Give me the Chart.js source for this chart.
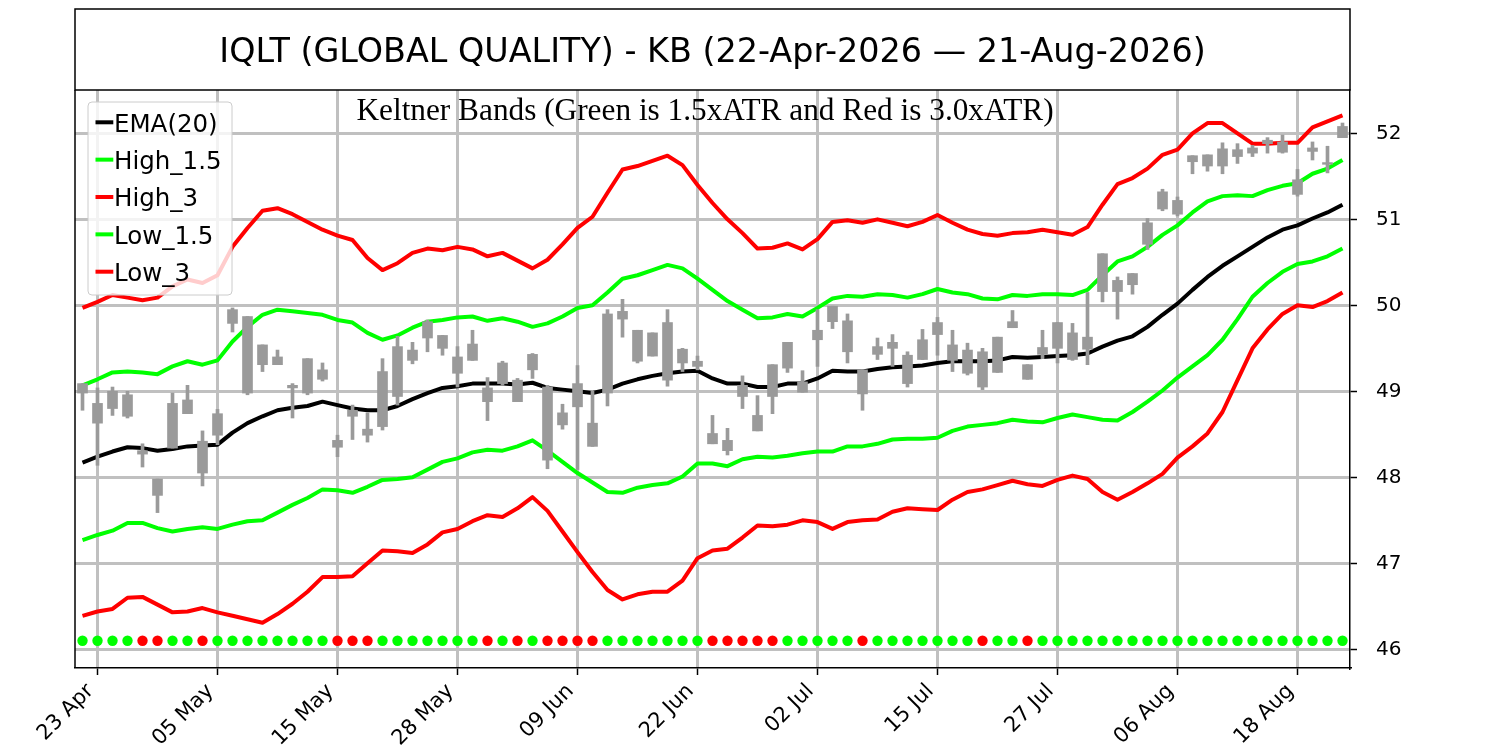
<!DOCTYPE html>
<html><head><meta charset="utf-8">
<script src="https://cdn.jsdelivr.net/npm/chart.js@4/dist/chart.umd.min.js"></script>
<style>html,body{margin:0;padding:0;background:#fff}canvas{display:block}</style>
</head><body>
<canvas id="c" width="1500" height="750"></canvas>
<script>
const titleText = 'IQLT (GLOBAL QUALITY) - KB (22-Apr-2026 \u2014 21-Aug-2026)';
const subtitleText = 'Keltner Bands (Green is 1.5xATR and Red is 3.0xATR)';
const tickIdx = [1, 9, 17, 25, 33, 41, 49, 57, 65, 73, 81];
const tickLabels = ['23 Apr', '05 May', '15 May', '28 May', '09 Jun', '22 Jun', '02 Jul', '15 Jul', '27 Jul', '06 Aug', '18 Aug'];
const yTicks = [46, 47, 48, 49, 50, 51, 52];

const ema = [48.17,48.24,48.30,48.35,48.34,48.31,48.33,48.36,48.37,48.38,48.52,48.63,48.71,48.78,48.81,
48.83,48.88,48.84,48.80,48.78,48.78,48.83,48.91,48.98,49.04,49.06,49.09,49.09,49.09,49.08,
49.10,49.04,49.02,49.00,48.98,49.02,49.09,49.14,49.18,49.21,49.23,49.24,49.15,49.09,49.09,
49.05,49.05,49.09,49.09,49.15,49.24,49.23,49.23,49.26,49.28,49.29,49.30,49.33,49.35,
49.35,49.35,49.36,49.40,49.39,49.40,49.41,49.42,49.44,49.52,49.59,49.64,49.75,49.89,50.02,
50.18,50.33,50.46,50.57,50.68,50.79,50.88,50.93,51.01,51.08,51.17];

const high15 = [49.07,49.14,49.22,49.23,49.22,49.20,49.29,49.35,49.31,49.36,49.58,49.75,49.89,49.95,49.93,
49.91,49.89,49.83,49.80,49.68,49.60,49.65,49.74,49.81,49.83,49.86,49.87,49.82,49.85,49.81,
49.75,49.79,49.87,49.97,50.00,50.15,50.31,50.35,50.41,50.47,50.43,50.31,50.18,50.05,49.95,
49.85,49.86,49.90,49.87,49.97,50.08,50.11,50.10,50.13,50.12,50.09,50.13,50.19,50.15,
50.13,50.08,50.07,50.12,50.11,50.13,50.13,50.12,50.18,50.35,50.51,50.57,50.68,50.82,50.93,
51.08,51.21,51.27,51.28,51.27,51.34,51.39,51.42,51.53,51.59,51.69];

const high3 = [49.97,50.04,50.12,50.09,50.06,50.09,50.22,50.30,50.26,50.35,50.68,50.90,51.10,51.13,51.06,
50.97,50.88,50.81,50.76,50.55,50.41,50.49,50.61,50.66,50.64,50.68,50.65,50.57,50.61,50.52,
50.43,50.53,50.71,50.90,51.03,51.31,51.58,51.62,51.68,51.74,51.63,51.40,51.19,51.00,50.84,
50.66,50.67,50.72,50.65,50.77,50.97,50.99,50.96,51.00,50.96,50.92,50.97,51.05,50.96,
50.88,50.83,50.81,50.84,50.85,50.88,50.85,50.82,50.91,51.17,51.41,51.48,51.59,51.75,51.81,
52.00,52.12,52.12,52.00,51.88,51.88,51.89,51.89,52.07,52.14,52.21];

const low15 = [47.27,47.33,47.38,47.47,47.47,47.41,47.37,47.40,47.42,47.40,47.45,47.49,47.50,47.59,47.68,
47.76,47.86,47.85,47.82,47.89,47.97,47.98,48.00,48.09,48.18,48.22,48.29,48.32,48.31,48.36,
48.43,48.31,48.18,48.05,47.94,47.83,47.82,47.88,47.91,47.93,48.01,48.16,48.16,48.13,48.21,
48.24,48.23,48.25,48.28,48.30,48.30,48.36,48.36,48.39,48.44,48.45,48.45,48.46,48.54,
48.59,48.61,48.63,48.67,48.65,48.64,48.69,48.73,48.70,48.67,48.66,48.76,48.88,49.01,49.16,
49.29,49.42,49.60,49.84,50.10,50.26,50.39,50.48,50.51,50.57,50.66];

const low3 = [46.39,46.44,46.47,46.60,46.61,46.52,46.43,46.44,46.48,46.43,46.39,46.35,46.31,46.41,46.53,
46.67,46.84,46.84,46.85,47.00,47.15,47.14,47.12,47.22,47.36,47.40,47.49,47.56,47.54,47.64,
47.77,47.61,47.37,47.13,46.90,46.69,46.58,46.64,46.67,46.67,46.80,47.06,47.15,47.17,47.30,
47.44,47.43,47.45,47.50,47.48,47.40,47.48,47.50,47.51,47.60,47.64,47.63,47.62,47.74,
47.83,47.86,47.91,47.96,47.92,47.90,47.97,48.02,47.98,47.83,47.74,47.83,47.93,48.04,48.23,
48.36,48.51,48.76,49.13,49.50,49.72,49.90,50.00,49.98,50.05,50.15];

// candles: body top, body bottom, high, low
const bodyTop = [49.09,48.86,49.00,48.96,48.31,47.98,48.86,48.90,48.42,48.74,49.95,49.87,49.54,49.40,49.07,
49.38,49.25,48.43,48.78,48.56,49.23,49.52,49.48,49.81,49.65,49.40,49.55,49.04,49.33,49.13,
49.43,49.05,48.75,49.09,48.63,49.90,49.93,49.71,49.68,49.80,49.49,49.35,48.51,48.43,49.07,
48.72,49.31,49.57,49.11,49.71,49.99,49.82,49.25,49.52,49.57,49.42,49.60,49.80,49.54,
49.48,49.46,49.63,49.81,49.31,49.51,49.80,49.68,49.63,50.60,50.29,50.37,50.96,51.32,51.22,
51.74,51.75,51.82,51.81,51.83,51.92,51.90,51.46,51.83,51.66,52.08];
const bodyBottom = [48.98,48.63,48.80,48.71,48.27,47.79,48.34,48.74,48.05,48.49,49.79,48.98,49.31,49.31,49.04,
48.98,49.14,48.35,48.71,48.49,48.59,48.94,49.36,49.62,49.50,49.21,49.36,48.88,49.09,48.88,
49.25,48.20,48.61,48.82,48.36,48.98,49.84,49.35,49.41,49.13,49.33,49.29,48.39,48.31,48.94,
48.54,48.94,49.27,48.99,49.60,49.81,49.46,48.97,49.43,49.50,49.09,49.37,49.66,49.36,
49.21,49.05,49.22,49.74,49.14,49.43,49.50,49.37,49.49,50.16,50.16,50.24,50.71,51.12,51.06,
51.67,51.62,51.62,51.73,51.77,51.88,51.78,51.29,51.79,51.64,51.95];
const high = [49.09,49.04,49.05,49.00,48.39,47.98,48.98,49.07,48.54,48.79,49.97,49.87,49.54,49.48,49.09,
49.38,49.33,48.49,48.84,48.75,49.38,49.64,49.57,49.83,49.65,49.52,49.71,49.16,49.35,49.15,
49.44,49.07,48.85,49.30,49.00,49.95,50.07,49.71,49.68,49.95,49.50,49.41,48.72,48.57,49.18,
48.95,49.31,49.57,49.24,49.95,49.99,49.90,49.25,49.62,49.66,49.46,49.72,49.86,49.71,
49.56,49.50,49.63,49.94,49.31,49.71,49.80,49.79,50.15,50.60,50.33,50.37,51.01,51.35,51.26,
51.74,51.75,51.89,51.88,51.86,51.95,51.98,51.58,51.90,51.85,52.12];
const low = [48.78,48.14,48.72,48.69,48.12,47.59,48.34,48.74,47.90,48.38,49.69,48.96,49.23,49.31,48.69,
48.96,49.12,48.24,48.44,48.41,48.55,48.84,49.32,49.46,49.42,49.05,49.36,48.66,49.07,48.88,
49.15,48.10,48.56,48.09,48.36,48.83,49.63,49.33,49.41,49.06,49.23,49.25,48.39,48.26,48.80,
48.54,48.74,49.22,48.99,49.29,49.73,49.33,48.78,49.37,49.29,49.05,49.37,49.42,49.23,
49.19,49.02,49.22,49.74,49.14,49.38,49.33,49.36,49.31,50.04,49.84,50.13,50.65,51.10,51.04,
51.53,51.56,51.53,51.65,51.73,51.77,51.77,51.27,51.69,51.54,51.95];

// squeeze dots: 1 = red, 0 = green
const squeeze = [0,0,0,0,1,1,0,0,1,0, 0,0,0,0,0,0,0,1,1,1, 0,0,0,0,0,0,0,1,0,1,
0,1,1,1,1,0,0,0,0,0, 0,0,1,1,1,1,1,0,0,0, 0,0,1,0,0,0,0,0,0,0,
1,0,0,1,0,0,0,0,0,0, 0,0,0,0,0,0,0,0,0,0, 0,0,0,0,0];
const dotLevel = 46.1;

const GRID = '#c0c0c0';
const pts = arr => arr.map((v, i) => ({x: i, y: v}));
const line = (label, arr, color, order) => ({
  type: 'line', label, data: pts(arr), borderColor: color, backgroundColor: color,
  borderWidth: 4, pointRadius: 0, tension: 0, order, borderJoinStyle: 'round', borderCapStyle: 'butt'
});
const lineSets = [
  line('EMA(20)', ema, '#000000', 5),
  line('High_1.5', high15, '#00ff00', 4),
  line('High_3', high3, '#ff0000', 3),
  line('Low_1.5', low15, '#00ff00', 2),
  line('Low_3', low3, '#ff0000', 1)
];

const deco = {
  id: 'deco',
  afterDraw(chart) {
    const ctx = chart.ctx, a = chart.chartArea;
    ctx.save();
    ctx.strokeStyle = '#000'; ctx.lineWidth = 1.5;
    ctx.strokeRect(a.left, 9, a.right - a.left, a.top - 9);
    ctx.beginPath(); ctx.moveTo(a.left, a.top); ctx.lineTo(a.left, a.bottom); ctx.stroke();
    ctx.fillStyle = '#000'; ctx.textAlign = 'center'; ctx.textBaseline = 'alphabetic';
    ctx.font = '33.4px "DejaVu Sans"';
    ctx.fillText(titleText, (a.left + a.right) / 2, 61.5);
    ctx.font = '31.3px "Liberation Serif"';
    ctx.fillText(subtitleText, 705, 120);
    // legend
    ctx.fillStyle = 'rgba(255,255,255,0.8)';
    ctx.strokeStyle = '#cccccc'; ctx.lineWidth = 1;
    ctx.beginPath(); ctx.roundRect(88, 102, 144, 193, 4); ctx.fill(); ctx.stroke();
    ctx.font = '24.5px "DejaVu Sans"'; ctx.textAlign = 'left';
    lineSets.forEach((ds, k) => {
      const yc = 122.3 + k * 37.35;
      ctx.strokeStyle = ds.borderColor; ctx.lineWidth = 4;
      ctx.beginPath(); ctx.moveTo(95.5, yc); ctx.lineTo(113.3, yc); ctx.stroke();
      ctx.fillStyle = '#000';
      ctx.fillText(ds.label, 114, yc + 9.4);
    });
    ctx.restore();
  }
};

new Chart(document.getElementById('c'), {
  type: 'line',
  data: {
    datasets: [
      {type: 'bar', label: 'wick', data: low.map((l, i) => ({x: i, y: [l, high[i]]})),
        backgroundColor: '#9a9a9a', barThickness: 3, grouped: false, order: 0, borderWidth: 0},
      {type: 'bar', label: 'body', data: bodyBottom.map((b, i) => ({x: i, y: [b, bodyTop[i]]})),
        backgroundColor: '#9a9a9a', barThickness: 10, grouped: false, order: 0, borderWidth: 0},
      ...lineSets,
      {type: 'line', label: 'squeeze', data: squeeze.map((s, i) => ({x: i, y: dotLevel})), showLine: false,
        pointRadius: 5.2, pointBorderWidth: 0, pointBackgroundColor: squeeze.map(s => s ? '#ff0000' : '#00ff00'), order: 6}
    ]
  },
  options: {
    responsive: false, animation: false, devicePixelRatio: 1,
    layout: {padding: {left: 75, top: 90, right: 0, bottom: 0}},
    plugins: {legend: {display: false}, tooltip: {enabled: false}, title: {display: false}},
    scales: {
      x: {
        type: 'linear', min: -0.5, max: 84.5, offset: false,
        afterBuildTicks: s => { s.ticks = tickIdx.map(v => ({value: v})); },
        afterFit: s => { s.height = 82; },
        ticks: {autoSkip: false, maxRotation: 45, minRotation: 45, color: '#000', padding: 4, labelOffset: -7,
          font: {family: 'DejaVu Sans', size: 21},
          callback: v => { const k = tickIdx.indexOf(v); return k >= 0 ? tickLabels[k] : ''; }},
        grid: {offset: false, color: GRID, lineWidth: 3, tickColor: '#000', tickLength: 7, tickWidth: 1.5},
        border: {color: '#000', width: 1.5}
      },
      y: {
        type: 'linear', position: 'right', min: 45.783, max: 52.504,
        afterBuildTicks: s => { s.ticks = yTicks.map(v => ({value: v})); },
        afterFit: s => { s.width = 150; },
        ticks: {color: '#000', padding: 19, font: {family: 'DejaVu Sans', size: 20}, callback: v => String(v)},
        grid: {color: GRID, lineWidth: 3, tickColor: '#000', tickLength: 7, tickWidth: 1.5},
        border: {color: '#000', width: 1.5}
      }
    }
  },
  plugins: [deco]
});
</script>
</body></html>
